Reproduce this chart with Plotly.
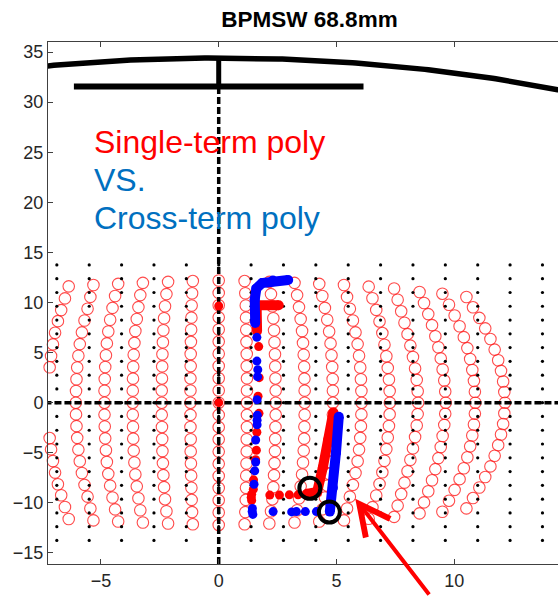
import numpy as np
import plotly.graph_objects as go

# ---------------- axis ticks ----------------
x_ticks = [-5, 0, 5, 10]
y_ticks = [-15, -10, -5, 0, 5, 10, 15, 20, 25, 30, 35]

# ---------------- geometry ----------------
pipe_diameter = 68.8                     # mm, from the title
electrode_half_width = 6.15
electrode_y = 31.55

# ---------------- true scan grid (black dots) ----------------
grid_x = [-6.875, -5.5, -4.125, -2.75, -1.375, 0.0, 1.375, 2.75, 4.125, 5.5,
          6.875, 8.25, 9.625, 11.0, 12.375, 13.75]
grid_y = [-13.75, -12.375, -11.0, -9.625, -8.25, -6.875, -5.5, -4.125, -2.75,
          -1.375, 0.0, 1.375, 2.75, 4.125, 5.5, 6.875, 8.25, 9.625, 11.0,
          12.375, 13.75]

# ---------------- raw BPM positions (red open circles), one list per column ----------------
circle_cols_x = [
    [-6.37, -6.53, -6.69, -6.83, -6.95, -7.04, -7.12, -7.18,
     -7.18, -7.12, -7.04, -6.95, -6.83, -6.69, -6.53, -6.37],
    [-5.32, -5.45, -5.57, -5.7, -5.81, -5.9, -5.96, -6.01, -6.04, -6.06, -6.07,
     -6.06, -6.04, -6.01, -5.96, -5.9, -5.81, -5.7, -5.57, -5.45, -5.32],
    [-4.27, -4.4, -4.51, -4.61, -4.69, -4.75, -4.79, -4.82, -4.84, -4.85, -4.85,
     -4.85, -4.84, -4.82, -4.79, -4.75, -4.69, -4.61, -4.51, -4.4, -4.27],
    [-3.22, -3.33, -3.41, -3.48, -3.54, -3.58, -3.61, -3.63, -3.64, -3.65, -3.65,
     -3.65, -3.64, -3.63, -3.61, -3.58, -3.54, -3.48, -3.41, -3.33, -3.22],
    [-2.15, -2.22, -2.28, -2.32, -2.35, -2.37, -2.39, -2.4, -2.41, -2.42, -2.42,
     -2.42, -2.41, -2.4, -2.39, -2.37, -2.35, -2.32, -2.28, -2.22, -2.15],
    [-1.1, -1.13, -1.15, -1.16, -1.17, -1.18, -1.19, -1.19, -1.2, -1.2, -1.2,
     -1.2, -1.2, -1.19, -1.19, -1.18, -1.17, -1.16, -1.15, -1.13, -1.1],
    [0.0] * 21,
    [1.1, 1.13, 1.15, 1.16, 1.17, 1.18, 1.19, 1.19, 1.2, 1.2, 1.2,
     1.2, 1.2, 1.19, 1.19, 1.18, 1.17, 1.16, 1.15, 1.13, 1.1],
    [2.15, 2.22, 2.28, 2.32, 2.35, 2.37, 2.39, 2.4, 2.41, 2.42, 2.42,
     2.42, 2.41, 2.4, 2.39, 2.37, 2.35, 2.32, 2.28, 2.22, 2.15],
    [3.22, 3.33, 3.41, 3.48, 3.54, 3.58, 3.61, 3.63, 3.64, 3.65, 3.65,
     3.65, 3.64, 3.63, 3.61, 3.58, 3.54, 3.48, 3.41, 3.33, 3.22],
    [4.27, 4.4, 4.51, 4.61, 4.69, 4.75, 4.79, 4.82, 4.84, 4.85, 4.85,
     4.85, 4.84, 4.82, 4.79, 4.75, 4.69, 4.61, 4.51, 4.4, 4.27],
    [5.32, 5.45, 5.57, 5.7, 5.81, 5.9, 5.96, 6.01, 6.04, 6.06, 6.07,
     6.06, 6.04, 6.01, 5.96, 5.9, 5.81, 5.7, 5.57, 5.45, 5.32],
    [6.37, 6.53, 6.69, 6.83, 6.95, 7.04, 7.12, 7.18, 7.23, 7.26, 7.27,
     7.26, 7.23, 7.18, 7.12, 7.04, 6.95, 6.83, 6.69, 6.53, 6.37],
    [7.45, 7.6, 7.75, 7.89, 8.02, 8.14, 8.25, 8.34, 8.41, 8.45, 8.47,
     8.45, 8.41, 8.34, 8.25, 8.14, 8.02, 7.89, 7.75, 7.6, 7.45],
    [8.53, 8.72, 8.9, 9.06, 9.2, 9.33, 9.43, 9.51, 9.58, 9.62, 9.64,
     9.62, 9.58, 9.51, 9.43, 9.33, 9.2, 9.06, 8.9, 8.72, 8.53],
    [9.5, 9.78, 10.02, 10.23, 10.41, 10.56, 10.68, 10.77, 10.84, 10.88, 10.9,
     10.88, 10.84, 10.77, 10.68, 10.56, 10.41, 10.23, 10.02, 9.78, 9.5],
    [10.52, 10.8, 11.07, 11.32, 11.54, 11.72, 11.87, 11.99, 12.08, 12.13, 12.16,
     12.13, 12.08, 11.99, 11.87, 11.72, 11.54, 11.32, 11.07, 10.8, 10.52],
]
circle_cols_y = [
    [-11.61, -10.41, -9.24, -8.14, -6.98, -5.82, -4.66, -3.53,
     3.53, 4.66, 5.82, 6.98, 8.14, 9.24, 10.41, 11.61],
    [-11.75, -10.56, -9.38, -8.2, -7.02, -5.85, -4.68, -3.51, -2.34, -1.17, 0,
     1.17, 2.34, 3.51, 4.68, 5.85, 7.02, 8.2, 9.38, 10.56, 11.75],
    [-11.86, -10.65, -9.46, -8.28, -7.1, -5.92, -4.74, -3.56, -2.37, -1.19, 0,
     1.19, 2.37, 3.56, 4.74, 5.92, 7.1, 8.28, 9.46, 10.65, 11.86],
    [-11.96, -10.74, -9.54, -8.35, -7.16, -5.97, -4.78, -3.59, -2.4, -1.2, 0,
     1.2, 2.4, 3.59, 4.78, 5.97, 7.16, 8.35, 9.54, 10.74, 11.96],
    [-12.06, -10.84, -9.63, -8.43, -7.23, -6.03, -4.83, -3.62, -2.42, -1.21, 0,
     1.21, 2.42, 3.62, 4.83, 6.03, 7.23, 8.43, 9.63, 10.84, 12.06],
    [-12.14, -10.92, -9.7, -8.49, -7.28, -6.07, -4.86, -3.65, -2.43, -1.22, 0,
     1.22, 2.43, 3.65, 4.86, 6.07, 7.28, 8.49, 9.7, 10.92, 12.14],
    [-12.2, -10.96, -9.73, -8.52, -7.31, -6.1, -4.88, -3.66, -2.44, -1.22, 0,
     1.22, 2.44, 3.66, 4.88, 6.1, 7.31, 8.52, 9.73, 10.96, 12.2],
    [-12.14, -10.92, -9.7, -8.49, -7.28, -6.07, -4.86, -3.65, -2.43, -1.22, 0,
     1.22, 2.43, 3.65, 4.86, 6.07, 7.28, 8.49, 9.7, 10.92, 12.14],
    [-12.06, -10.84, -9.63, -8.43, -7.23, -6.03, -4.83, -3.62, -2.42, -1.21, 0,
     1.21, 2.42, 3.62, 4.83, 6.03, 7.23, 8.43, 9.63, 10.84, 12.06],
    [-11.96, -10.74, -9.54, -8.35, -7.16, -5.97, -4.78, -3.59, -2.4, -1.2, 0,
     1.2, 2.4, 3.59, 4.78, 5.97, 7.16, 8.35, 9.54, 10.74, 11.96],
    [-11.86, -10.65, -9.46, -8.28, -7.1, -5.92, -4.74, -3.56, -2.37, -1.19, 0,
     1.19, 2.37, 3.56, 4.74, 5.92, 7.1, 8.28, 9.46, 10.65, 11.86],
    [-11.75, -10.56, -9.38, -8.2, -7.02, -5.85, -4.68, -3.51, -2.34, -1.17, 0,
     1.17, 2.34, 3.51, 4.68, 5.85, 7.02, 8.2, 9.38, 10.56, 11.75],
    [-11.58, -10.42, -9.26, -8.11, -6.95, -5.79, -4.63, -3.47, -2.32, -1.16, 0,
     1.16, 2.32, 3.47, 4.63, 5.79, 6.95, 8.11, 9.26, 10.42, 11.58],
    [-11.4, -10.27, -9.12, -7.98, -6.84, -5.7, -4.56, -3.42, -2.28, -1.14, 0,
     1.14, 2.28, 3.42, 4.56, 5.7, 6.84, 7.98, 9.12, 10.27, 11.4],
    [-11.05, -9.95, -8.84, -7.74, -6.63, -5.53, -4.42, -3.32, -2.21, -1.11, 0,
     1.11, 2.21, 3.32, 4.42, 5.53, 6.63, 7.74, 8.84, 9.95, 11.05],
    [-10.88, -9.78, -8.7, -7.63, -6.54, -5.45, -4.36, -3.27, -2.18, -1.09, 0,
     1.09, 2.18, 3.27, 4.36, 5.45, 6.54, 7.63, 8.7, 9.78, 10.88],
    [-10.55, -9.52, -8.47, -7.42, -6.36, -5.3, -4.24, -3.18, -2.12, -1.06, 0,
     1.06, 2.12, 3.18, 4.24, 5.3, 6.36, 7.42, 8.47, 9.52, 10.55],
]

# ---------------- corrected scan path: single-term polynomial (red) ----------------
red_dense_top_x = [2.55, 1.61, 1.63]
red_dense_top_y = [9.72, 9.72, 7.15]
red_dense_bot_x = [3.75, 4.18, 4.42, 4.65, 4.87]
red_dense_bot_y = [-9.1, -8.9, -6.5, -3.7, -0.95]
red_dots_x = [0.0, 0.0, 1.7, 1.72, 1.67, 1.71, 1.62, 1.6, 1.57, 1.48, 1.47,
              1.4, 1.38, 1.4, 2.17, 2.58, 3.0, 3.37, 3.73]
red_dots_y = [9.65, 0.0, 5.6, 2.5, 0.65, -1.06, -2.95, -4.75, -5.7, -7.7, -8.64,
              -9.15, -9.45, -9.75, -9.22, -9.22, -9.2, -9.2, -9.15]

# ---------------- corrected scan path: cross-term polynomial (blue) ----------------
blue_dense_top_x = [2.95, 2.3, 1.85, 1.6, 1.53, 1.55]
blue_dense_top_y = [12.25, 12.2, 11.95, 11.4, 10.3, 7.95]
blue_dense_bot_x = [4.72, 4.85, 4.98, 5.1]
blue_dense_bot_y = [-10.87, -8.5, -5.0, -1.4]
blue_dots_x = [1.62, 1.62, 1.66, 1.65, 1.63, 1.64, 1.63, 1.63, 1.57, 1.57, 1.53,
               1.5, 1.43, 1.42, 1.45, 2.31, 3.1, 3.3, 3.68, 4.15]
blue_dots_y = [6.52, 4.15, 3.3, 2.6, 0.3, -1.25, -1.75, -2.2, -3.72, -5.92, -6.8,
               -8.14, -10.55, -10.85, -11.15, -10.87, -10.9, -10.87, -10.87, -10.87]

# ---------------- highlighted corner points ----------------
mark_x = [3.87, 4.7]
mark_y = [-8.55, -10.92]
arrow_tip = (5.8, -9.58)

x_range = [-7.25, 14.41]
y_range = [-16.1, 36.0]

FONT = "Liberation Sans, Arial, sans-serif"
RED = "#FF0000"
BLUE_TXT = "#0070C0"
AX = "#404040"

fig = go.Figure()

# red raw-position circles
cx = [v for col in circle_cols_x for v in col]
cy = [v for col in circle_cols_y for v in col]
fig.add_trace(go.Scatter(
    x=cx, y=cy, mode="markers", cliponaxis=False,
    marker=dict(symbol="circle-open", size=11.5, color="rgba(255,30,30,0.8)",
                line=dict(width=1.1)),
))

# grid dots
gx, gy = np.meshgrid(grid_x, grid_y)
fig.add_trace(go.Scatter(
    x=gx.ravel(), y=gy.ravel(), mode="markers",
    marker=dict(size=3.2, color="black"),
))

# beam pipe
R = pipe_diameter / 2
th = np.linspace(0, np.pi, 721)
fig.add_trace(go.Scatter(x=R * np.cos(th), y=R * np.sin(th), mode="lines",
                         line=dict(color="black", width=5.5)))

# stripline electrode and its stem
fig.add_trace(go.Scatter(x=[-electrode_half_width, electrode_half_width],
                         y=[electrode_y, electrode_y], mode="lines",
                         line=dict(color="black", width=6)))
fig.add_trace(go.Scatter(x=[0, 0], y=[electrode_y, R], mode="lines",
                         line=dict(color="black", width=5)))

# dashed cross-hair through the origin
fig.add_trace(go.Scatter(x=[x_range[0] - 1, x_range[1] + 1], y=[0, 0], mode="lines",
                         line=dict(color="black", width=3.5, dash="7px,3px")))
fig.add_trace(go.Scatter(x=[0, 0], y=[y_range[0] - 1, electrode_y], mode="lines",
                         line=dict(color="black", width=3.5, dash="7px,3px")))

# red path
for xs, ys in [(red_dense_top_x, red_dense_top_y), (red_dense_bot_x, red_dense_bot_y)]:
    fig.add_trace(go.Scatter(x=xs, y=ys, mode="lines+markers",
                             line=dict(color=RED, width=10),
                             marker=dict(color=RED, size=10)))
fig.add_trace(go.Scatter(x=red_dots_x, y=red_dots_y, mode="markers",
                         marker=dict(color=RED, size=9)))

# blue path
for xs, ys in [(blue_dense_top_x, blue_dense_top_y), (blue_dense_bot_x, blue_dense_bot_y)]:
    fig.add_trace(go.Scatter(x=xs, y=ys, mode="lines+markers",
                             line=dict(color="#0000FF", width=10),
                             marker=dict(color="#0000FF", size=10)))
fig.add_trace(go.Scatter(x=blue_dots_x, y=blue_dots_y, mode="markers",
                         marker=dict(color="#0000FF", size=9)))

# highlighted corners
fig.add_trace(go.Scatter(x=mark_x, y=mark_y, mode="markers",
                         marker=dict(symbol="circle-open", size=21, color="black",
                                     line=dict(width=4))))

# labels
labels = [("Single-term poly", RED, 26.06), ("VS.", BLUE_TXT, 22.27),
          ("Cross-term poly", BLUE_TXT, 18.48)]
annotations = []
for txt, col, yy in labels:
    annotations.append(dict(x=-5.4, y=yy, xref="x", yref="y", text=txt,
                            showarrow=False, xanchor="left", yanchor="middle",
                            font=dict(family=FONT, size=32, color=col)))
annotations.append(dict(x=arrow_tip[0], y=arrow_tip[1], xref="x", yref="y",
                        ax=75, ay=102, axref="pixel", ayref="pixel", text="",
                        showarrow=True, arrowhead=5, arrowsize=1.5,
                        arrowwidth=4, arrowcolor=RED))

fig.update_layout(
    width=558, height=596,
    margin=dict(l=48, r=0, t=42, b=32),
    plot_bgcolor="white", paper_bgcolor="white",
    showlegend=False,
    title=dict(text="<b>BPMSW 68.8mm</b>", x=309.5 / 558, xref="container",
               xanchor="center", y=1 - 19 / 596, yref="container", yanchor="middle",
               font=dict(family=FONT, size=22.5, color="black")),
    annotations=annotations,
    font=dict(family=FONT, size=18, color="#262626"),
)
fig.update_xaxes(range=x_range, tickvals=x_ticks, ticks="inside", ticklen=5,
                 tickcolor=AX, showline=True, linecolor=AX, linewidth=1,
                 mirror="ticks", showgrid=False, zeroline=False,
                 tickfont=dict(size=18, color="#262626"))
fig.update_yaxes(range=y_range, tickvals=y_ticks, ticks="inside", ticklen=5,
                 tickcolor=AX, showline=True, linecolor=AX, linewidth=1,
                 mirror=False, showgrid=False, zeroline=False,
                 tickfont=dict(size=18, color="#262626"))

fig.write_html("out.html")
